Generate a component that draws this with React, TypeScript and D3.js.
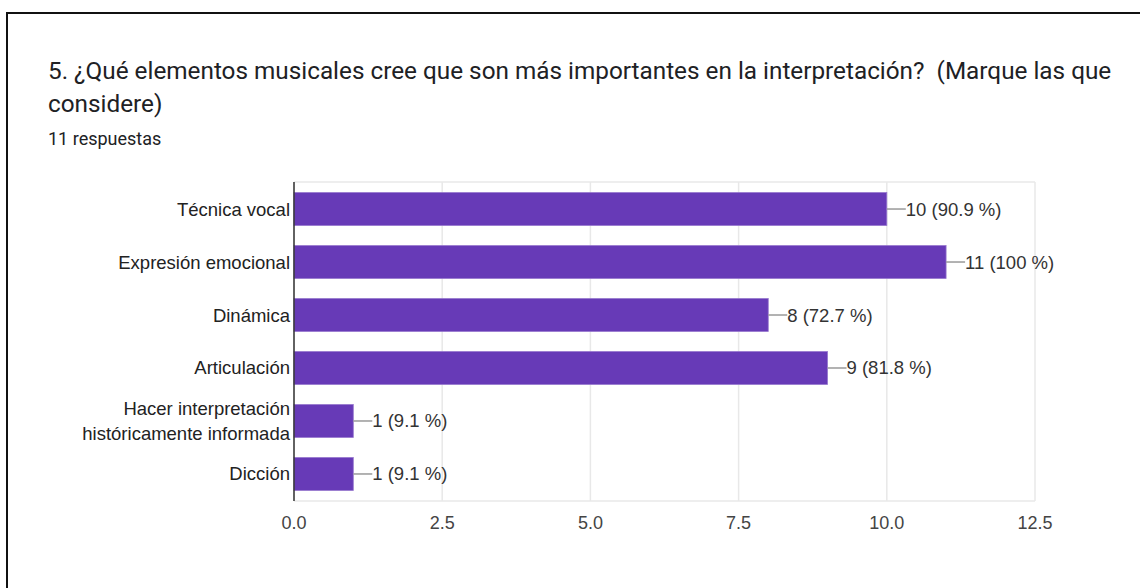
import * as d3 from 'd3';
import React from 'react';

const categories = [
  ['Técnica vocal'],
  ['Expresión emocional'],
  ['Dinámica'],
  ['Articulación'],
  ['Hacer interpretación', 'históricamente informada'],
  ['Dicción'],
];
const counts = [10, 11, 8, 9, 1, 1];
const percents = ['90.9', '100', '72.7', '81.8', '9.1', '9.1'];
const ticks = [0, 2.5, 5, 7.5, 10, 12.5];

const W = 1140;
const H = 588;
const margin = { top: 182, left: 294, right: 105, bottom: 87 };

function App() {
  const x = d3.scaleLinear().domain([0, 12.5]).range([margin.left, W - margin.right]);
  const y = d3
    .scaleBand()
    .domain(categories.map((c, i) => String(i)))
    .range([margin.top, H - margin.bottom])
    .paddingInner(0.38)
    .paddingOuter(0.2);

  const font = 'Arial, "Liberation Sans", sans-serif';
  const fs = 18.5;

  return (
    <svg width={W} height={H} style={{ position: 'absolute', left: 0, top: 0, background: '#fff' }}>
      <rect x={7} y={13} width={W + 20} height={H + 20} fill="none" stroke="#111" strokeWidth={2} />

      {/* header */}
      <g fontFamily="Roboto, sans-serif" fill="#202124">
        <text x={48} y={79} fontSize={24.3}>
          5. ¿Qué elementos musicales cree que son más importantes en la interpretación?&#160; (Marque las que
        </text>
        <text x={48} y={112} fontSize={24.3}>considere)</text>
        <text x={48} y={145} fontSize={18}>11 respuestas</text>
      </g>

      {/* grid */}
      <g>
        {ticks.map((t) => (
          <line key={t} x1={x(t)} x2={x(t)} y1={margin.top} y2={H - margin.bottom} stroke="#e8e8e8" strokeWidth={1.5} />
        ))}
        <line x1={margin.left} x2={x(12.5)} y1={margin.top} y2={margin.top} stroke="#e8e8e8" strokeWidth={1.5} />
        <line x1={margin.left} x2={x(12.5)} y1={H - margin.bottom} y2={H - margin.bottom} stroke="#e8e8e8" strokeWidth={1.5} />
      </g>

      {/* bars */}
      <g>
        {counts.map((v, i) => {
          const yy = y(String(i))!;
          const bh = y.bandwidth();
          return (
            <g key={i}>
              <rect x={x(0)} y={yy} width={x(v) - x(0)} height={bh} fill="#673ab7" stroke="#9575cd" strokeWidth={0.8} />
              <line x1={x(v)} x2={x(v) + 19} y1={yy + bh / 2} y2={yy + bh / 2} stroke="#999" strokeWidth={1.5} />
              <text x={x(v) + 19} y={yy + bh / 2 + 6.5} fontFamily={font} fontSize={fs} fill="#333">
                {`${v} (${percents[i]} %)`}
              </text>
            </g>
          );
        })}
      </g>

      {/* y labels */}
      <g fontFamily={font} fontSize={fs} fill="#222" textAnchor="end">
        {categories.map((lines, i) => {
          const cy = y(String(i))! + y.bandwidth() / 2;
          const lh = 25;
          const start = cy - ((lines.length - 1) * lh) / 2 + 6.5;
          return lines.map((l, j) => (
            <text key={`${i}-${j}`} x={margin.left - 4} y={start + j * lh}>
              {l}
            </text>
          ));
        })}
      </g>

      {/* axis */}
      <line x1={margin.left} x2={margin.left} y1={margin.top} y2={H - margin.bottom} stroke="#333" strokeWidth={1.5} />
      <g fontFamily={font} fontSize={18} fill="#444" textAnchor="middle">
        {ticks.map((t) => (
          <text key={t} x={x(t)} y={529}>
            {t.toFixed(1)}
          </text>
        ))}
      </g>
    </svg>
  );
}

export default App;
